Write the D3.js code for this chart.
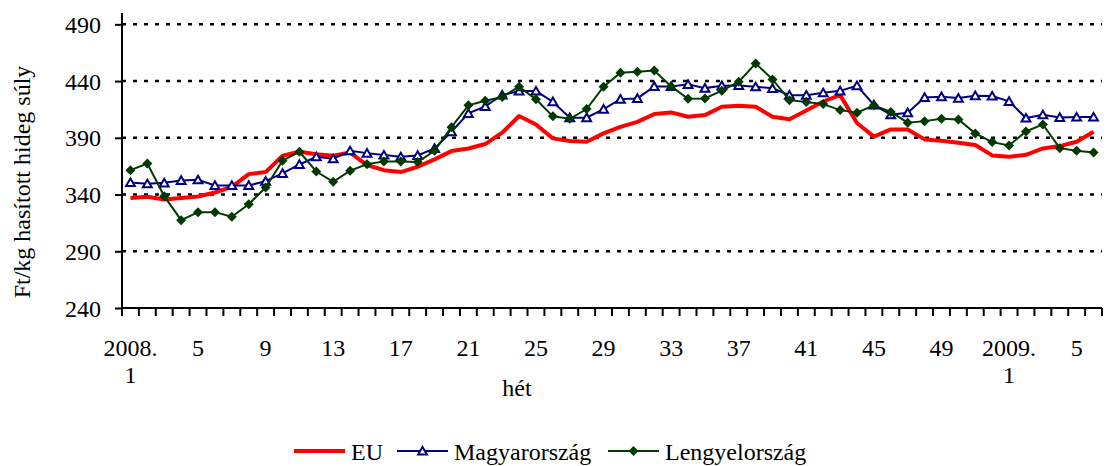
<!DOCTYPE html>
<html>
<head>
<meta charset="utf-8">
<script src="https://cdn.jsdelivr.net/npm/d3@7"></script>
<style>
  body { margin: 0; background: #fff; }
  text { font-family: "Liberation Serif", "Times New Roman", serif; fill: #000; }
</style>
</head>
<body>
<div id="chart"></div>
<script>
// weeks: 2008 week 1..52, then 2009 week 1..6
const weeks = d3.range(1, 53).map(w => '2008-' + w).concat(d3.range(1, 7).map(w => '2009-' + w));
const tickLabels = ['2008.|1', '5', '9', '13', '17', '21', '25', '29', '33', '37', '41', '45', '49', '2009.|1', '5'];

const eu = [337, 338, 335.6, 337, 338.3, 341.8, 346.8, 358, 359.8, 374.2, 377.7, 375.5, 374.2, 377, 366, 361.5, 359.8, 364.5, 371, 378.3, 380.6, 384.5, 394.5, 409.2, 401.8, 389.5, 387.1, 386.5, 393.9, 399.7, 404.1, 410.9, 412.4, 408.6, 410, 417.4, 418.3, 417.4, 408.6, 406.3, 414, 422, 427.6, 403, 391, 397.4, 397.4, 388.6, 387.4, 385.6, 383.6, 374.5, 373.3, 375, 380.6, 382.7, 386.5, 395.3];
const hu = [350.6, 349.5, 350.3, 352.4, 353, 348, 348, 348, 351.8, 358.6, 366.5, 373.3, 371.5, 378.6, 376.5, 374.8, 373.3, 374.5, 380.6, 395.3, 411.5, 417.7, 427.7, 431.2, 431.2, 421.8, 407.7, 407.7, 415.3, 424.1, 424.7, 435.3, 435.3, 437.1, 433.8, 435.9, 436.2, 435, 433.6, 427.6, 427.6, 429.7, 431.4, 435.9, 419, 410.3, 412.1, 425.6, 426.2, 425, 427.1, 426.8, 422.1, 407.4, 410.3, 408, 408.3, 408.3];
const pl = [361.5, 367.4, 338.6, 317.4, 324.5, 324.5, 320.4, 331.5, 346.2, 369.8, 377.7, 360.3, 351.2, 361, 366.8, 369.2, 369.2, 368.6, 378.6, 399.4, 418.6, 422.7, 425.9, 435, 423.9, 408.9, 406.8, 415.3, 435, 447.4, 448.3, 449.4, 435.3, 424.4, 424.7, 431.5, 439.3, 455.6, 441.5, 423.2, 421.6, 419.7, 414.4, 412.1, 418.7, 412.8, 403.3, 404.7, 406.8, 406.2, 393.9, 386.2, 383.3, 395.6, 401.8, 380.9, 378.6, 377.1];

const yTicks = [240, 290, 340, 390, 440, 490];

const width = 1112, height = 466;
const margin = { left: 122, right: 10, top: 13, bottom: 158 };
const fontSize = '24px';

const svg = d3.select('#chart')
    .append('svg')
    .attr('width', width)
    .attr('height', height);

const x = d3.scaleBand()
    .domain(weeks)
    .range([margin.left, width - margin.right]);

const y = d3.scaleLinear()
    .domain([240, 500])
    .range([height - margin.bottom, margin.top]);

// dotted gridlines
svg.append('g')
    .selectAll('line')
    .data(yTicks.slice(1))
    .enter()
    .append('line')
    .attr('x1', margin.left)
    .attr('x2', width - margin.right)
    .attr('y1', d => y(d))
    .attr('y2', d => y(d))
    .attr('stroke', '#000')
    .attr('stroke-width', 2.5)
    .attr('stroke-dasharray', '4,7');

// y axis
const yAxis = svg.append('g')
    .attr('transform', `translate(${margin.left},0)`)
    .call(d3.axisLeft(y).tickValues(yTicks).tickSize(7).tickPadding(14));
yAxis.select('.domain').attr('stroke', '#000').attr('stroke-width', 2).attr('d', `M0,${y(500)}V${y(240)}`);
yAxis.selectAll('.tick line').attr('stroke', '#000').attr('stroke-width', 2);
yAxis.selectAll('.tick text').style('font-size', fontSize).attr('dy', '0.34em');

// x axis line + ticks between categories
const baseY = y(240);
svg.append('line')
    .attr('x1', margin.left)
    .attr('x2', width - margin.right)
    .attr('y1', baseY)
    .attr('y2', baseY)
    .attr('stroke', '#000')
    .attr('stroke-width', 2);

svg.append('g')
    .selectAll('line')
    .data(weeks.concat(['end']))
    .enter()
    .append('line')
    .attr('x1', (d, i) => margin.left + i * x.step())
    .attr('x2', (d, i) => margin.left + i * x.step())
    .attr('y1', baseY)
    .attr('y2', baseY + 8)
    .attr('stroke', '#000')
    .attr('stroke-width', 2);

// x tick labels, every 4th week
const labelled = weeks.filter((d, i) => i % 4 === 0);
const xl = svg.append('g')
    .selectAll('text')
    .data(labelled)
    .enter()
    .append('text')
    .attr('x', d => x(d) + x.bandwidth() / 2)
    .attr('y', 356)
    .attr('text-anchor', 'middle')
    .style('font-size', fontSize);
xl.each(function(d, i) {
  const parts = tickLabels[i].split('|');
  const t = d3.select(this);
  parts.forEach((p, j) => {
    t.append('tspan')
        .attr('x', x(d) + x.bandwidth() / 2)
        .attr('dy', j === 0 ? 0 : 27)
        .text(p);
  });
});

// axis titles
svg.append('text')
    .attr('x', 517)
    .attr('y', 396)
    .attr('text-anchor', 'middle')
    .style('font-size', fontSize)
    .text('hét');

svg.append('text')
    .attr('transform', 'translate(30,182) rotate(-90)')
    .attr('text-anchor', 'middle')
    .style('font-size', fontSize)
    .text('Ft/kg hasított hideg súly');

const line = d3.line()
    .x((d, i) => x(weeks[i]) + x.bandwidth() / 2)
    .y(d => y(d));

const triangle = d3.symbol().type(d3.symbolTriangle).size(34);
const diamond = 'M0,-5L5,0L0,5L-5,0Z';

// EU
svg.append('path')
    .datum(eu)
    .attr('d', line)
    .attr('fill', 'none')
    .attr('stroke', '#ff0000')
    .attr('stroke-width', 4)
    .attr('stroke-linejoin', 'round');

// Magyarország
svg.append('path')
    .datum(hu)
    .attr('d', line)
    .attr('fill', 'none')
    .attr('stroke', '#000080')
    .attr('stroke-width', 2);
svg.append('g')
    .selectAll('path')
    .data(hu)
    .enter()
    .append('path')
    .attr('d', triangle)
    .attr('transform', (d, i) => `translate(${x(weeks[i]) + x.bandwidth() / 2},${y(d) + 1})`)
    .attr('fill', '#fff')
    .attr('stroke', '#000080')
    .attr('stroke-width', 2);

// Lengyelország
svg.append('path')
    .datum(pl)
    .attr('d', line)
    .attr('fill', 'none')
    .attr('stroke', '#003a00')
    .attr('stroke-width', 2);
svg.append('g')
    .selectAll('path')
    .data(pl)
    .enter()
    .append('path')
    .attr('d', diamond)
    .attr('transform', (d, i) => `translate(${x(weeks[i]) + x.bandwidth() / 2},${y(d)})`)
    .attr('fill', '#003a00');

// legend
const legend = [
  { name: 'EU', color: '#ff0000', w: 4, x: 294, marker: null },
  { name: 'Magyarország', color: '#000080', w: 2, x: 397, marker: 'tri' },
  { name: 'Lengyelország', color: '#003a00', w: 2, x: 608, marker: 'dia' }
];
const lg = svg.append('g')
    .selectAll('g')
    .data(legend)
    .enter()
    .append('g')
    .attr('transform', d => `translate(${d.x},451)`);
lg.append('line')
    .attr('x1', 0).attr('x2', 51)
    .attr('stroke', d => d.color)
    .attr('stroke-width', d => d.w);
lg.filter(d => d.marker === 'tri')
    .append('path')
    .attr('d', triangle)
    .attr('transform', 'translate(25.5,1)')
    .attr('fill', '#fff')
    .attr('stroke', d => d.color)
    .attr('stroke-width', 2);
lg.filter(d => d.marker === 'dia')
    .append('path')
    .attr('d', diamond)
    .attr('transform', 'translate(25.5,0)')
    .attr('fill', d => d.color);
lg.append('text')
    .attr('x', 57)
    .attr('y', 9)
    .style('font-size', fontSize)
    .text(d => d.name);
</script>
</body>
</html>
